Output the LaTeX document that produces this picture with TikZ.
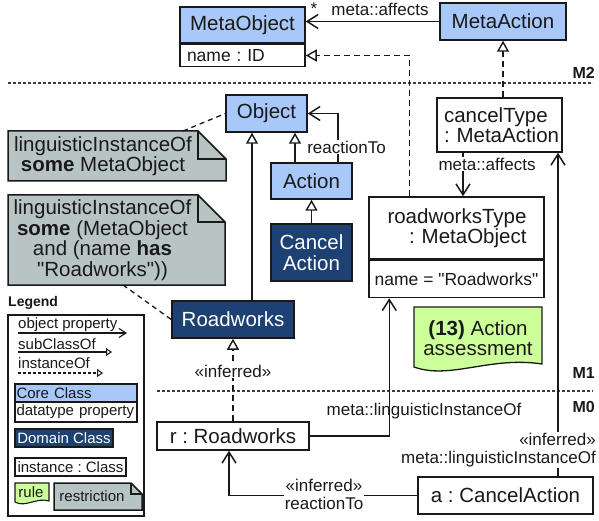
\documentclass[tikz,border=0pt]{standalone}
\usepackage{fontspec}
\setmainfont{Liberation Sans}[Ligatures=TeXOff]
\usetikzlibrary{arrows.meta,calc}

\definecolor{ink}{RGB}{25,25,25}
\definecolor{coreblue}{RGB}{168,200,250}
\definecolor{domainblue}{RGB}{30,65,115}
\definecolor{notegray}{RGB}{184,196,196}
\definecolor{rulegreen}{RGB}{204,255,153}

\tikzset{
  mainfont/.style={font=\fontsize{20.5}{20.5}\selectfont},
  labelfont/.style={font=\fontsize{17}{18}\selectfont},
  legfont/.style={font=\fontsize{15}{16}\selectfont},
  umlbox/.style={draw=ink, line width=1.5pt, inner sep=0pt, align=center, text=ink, mainfont},
  coreclass/.style={umlbox, fill=coreblue},
  domclass/.style={umlbox, fill=domainblue, text=white},
  instbox/.style={umlbox, fill=white},
  attrbox/.style={umlbox, fill=white, font=\fontsize{17.5}{18}\selectfont},
  lbl/.style={labelfont, text=ink, inner sep=1pt, align=center},
  wlbl/.style={lbl, fill=white},
  conn/.style={draw=ink, line width=1.5pt},
  prop/.style={conn, -{Straight Barb[length=11pt, width=14pt, line width=1.5pt]}},
  subcls/.style={conn, -{Triangle[open, length=11pt, width=12pt, line width=1.4pt, fill=white]}},
  instof/.style={subcls, dash pattern=on 6pt off 4pt},
  notelink/.style={draw=ink, line width=1.3pt, dash pattern=on 5pt off 4pt},
  levelline/.style={draw=ink!85, line width=1.2pt, dash pattern=on 3pt off 2pt},
  mlabel/.style={font=\bfseries\fontsize{16}{16}\selectfont, text=ink, inner sep=0pt},
  restr/.style={fill=notegray, draw=ink, line width=1.5pt},
  rulefill/.style={fill=rulegreen, draw=ink, line width=1.3pt},
  notetext/.style={mainfont, text=ink, align=center, inner sep=0pt},
  holder/.style={inner sep=0pt, outer sep=0pt},
  legtext/.style={legfont, text=ink, inner sep=0pt},
  legprop/.style={conn, line width=1.1pt, -{Straight Barb[length=7pt, width=9pt, line width=1.1pt]}},
  legsub/.style={conn, line width=1.1pt, -{Triangle[open, length=6pt, width=8pt, line width=1pt, fill=white]}},
  leginst/.style={legsub, dash pattern=on 3pt off 2pt},
}

% folded-corner restriction note drawn around an empty holder node
\newcommand\drawfold[2]{%
  \path[restr] (#1.north west) -- ([xshift=-#2]#1.north east) -- ([yshift=-#2]#1.north east)
     -- (#1.south east) -- (#1.south west) -- cycle;
  \draw[draw=ink, line width=1.5pt] ([xshift=-#2]#1.north east) |- ([yshift=-#2]#1.north east);}

\begin{document}
\frenchspacing
\begin{tikzpicture}[x=1pt,y=-1pt]
\fill[white] (0,0) rectangle (599,521);
\useasboundingbox (0,0) rectangle (599,521);

% ---- metamodel levels ----
\coordinate (lvA1) at (8,83);   \coordinate (lvA2) at (593,83);
\coordinate (lvB1) at (157,391); \coordinate (lvB2) at (593,391);
\draw[levelline] (lvA1) -- (lvA2);
\draw[levelline] (lvB1) -- (lvB2);
\node[mlabel, anchor=east] (m2) at (595,73) {M2};
\node[mlabel, anchor=east] (m1) at (595,373) {M1};
\node[mlabel, anchor=east] (m0) at (595,407) {M0};

% ---- M2 ----
\node[coreclass, minimum width=125pt, minimum height=36pt] (mo) at (242.5,25) {MetaObject};
\node[attrbox, minimum width=125pt, minimum height=22pt, anchor=north, text width=111pt, align=left] (moattr) at (mo.south) {name : ID};
\node[coreclass, minimum width=126pt, minimum height=37pt] (ma) at (503,21.5) {MetaAction};

% ---- M1 ----
\node[coreclass, minimum width=81pt, minimum height=37pt] (obj) at (266.5,113.5) {Object};
\node[coreclass, minimum width=81pt, minimum height=36pt] (act) at (311.5,181) {Action};
\node[domclass, minimum width=81pt, minimum height=57pt] (cact) at (311.5,252.5) {Cancel\\Action};
\node[domclass, minimum width=122pt, minimum height=37pt] (rw) at (233,319.5) {Roadworks};

\node[instbox, minimum width=125pt, minimum height=54pt, text width=121pt, align=left] (ct) at (499.5,125) {\hspace*{5pt}cancelType\\\hspace*{5pt}: MetaAction};
\node[instbox, minimum width=175pt, minimum height=62pt, text width=140pt, align=right] (rt) at (456.5,228) {roadworksType\\: MetaObject};
\node[attrbox, minimum width=175pt, minimum height=37pt, anchor=north] (rtattr) at (rt.south) {name = "Roadworks"};

% restriction notes
\node[holder, minimum width=218pt, minimum height=50pt] (n1) at (117,156) {};
\drawfold{n1}{28pt}
\node[notetext] (n1txt) at ([xshift=-14pt]n1.center) {linguisticInstanceOf\\\textbf{some} MetaObject};

\node[holder, minimum width=217pt, minimum height=90pt] (n2) at (116.5,240) {};
\drawfold{n2}{27pt}
\node[notetext] (n2txt) at ([xshift=-14pt]n2.center) {linguisticInstanceOf\\\textbf{some} (MetaObject\\and (name \textbf{has}\\"Roadworks"))};

% rule
\node[holder, minimum width=128pt, minimum height=58pt] (r13) at (478,336) {};
\path[rulefill] (r13.north west) -- (r13.north east) -- ($(r13.south east)+(0,-1)$)
  .. controls ($(r13.south east)+(-52,-9)$) and ($(r13.south west)+(36,15)$) .. ($(r13.south west)+(0,2)$) -- cycle;
\node[notetext] (r13txt) at (478,338) {\textbf{(13)} Action\\assessment};

% ---- M0 ----
\node[instbox, minimum width=152pt, minimum height=28pt] (r) at (233,436) {r : Roadworks};
\node[instbox, minimum width=175pt, minimum height=37pt] (a) at (505.5,495.5) {a : CancelAction};

% ---- connectors ----
\draw[prop] (ma.west) -- (ma.west -| mo.east);
\draw[instof] ([xshift=41pt]rt.north west) |- (moattr.east);
\draw[instof] (ct.north -| ma.south) -- (ma.south);
\draw[prop] ([xshift=-36.5pt]ct.south) -- ([xshift=-36.5pt]ct.south |- rt.north);

\draw[subcls] ([xshift=19pt]rw.north) -- ([xshift=19pt]rw.north |- obj.south);
\draw[subcls] ([xshift=-16.5pt]act.north) -- ([xshift=-16.5pt]act.north |- obj.south);
\draw[subcls] (cact.north) -- (act.south);
\draw[prop] ([xshift=26.5pt]act.north) |- (obj.east);

\draw[notelink] ([xshift=66pt]n1.north) -- (obj.west);
\draw[notelink] ([xshift=6.5pt]n2.south) -- (rw.west);

\draw[instof] (r.north) -- (rw.south);
\draw[prop] (r.east) -| ([xshift=21pt]rtattr.south west);
\draw[prop] ([xshift=52.5pt]a.north) -- ([xshift=52.5pt]a.north |- ct.south);
\draw[prop] (a.west) -| ([xshift=-4pt]r.south);

% ---- connector labels ----
\node[lbl] (star) at (314,9) {*};
\node[lbl] (affects1) at (380,9) {meta::affects};
\node[wlbl] (affects2) at (487,164) {meta::affects};
\node[wlbl] (reaction1) at (346.5,147) {reactionTo};
\node[wlbl] (inferred1) at (233,371) {«inferred»};
\node[lbl] (lio1) at (424,411) {meta::linguisticInstanceOf};
\node[wlbl, anchor=east, align=right] (lio2) at (597,450) {«inferred»\\meta::linguisticInstanceOf};
\node[wlbl] (reaction2) at (324,494) {«inferred»\\reactionTo};

% ---- legend ----
\node[font=\bfseries\fontsize{14}{14}\selectfont, text=ink, anchor=west, inner sep=0pt] (legtitle) at (8,303) {Legend};
\node[draw=ink, line width=1.3pt, minimum width=136pt, minimum height=201pt, inner sep=0pt] (legbox) at (76,415.5) {};

\node[legtext, anchor=west] (lgop) at (18,325) {object property};
\coordinate (lop1) at (18,333); \coordinate (lop2) at (127,333);
\draw[legprop] (lop1) -- (lop2);
\node[legtext, anchor=west] (lgsub) at (18,344) {subClassOf};
\coordinate (lsb1) at (18,352); \coordinate (lsb2) at (112,352);
\draw[legsub] (lsb1) -- (lsb2);
\node[legtext, anchor=west] (lginst) at (18,363) {instanceOf};
\coordinate (lin1) at (18,373); \coordinate (lin2) at (103,373);
\draw[leginst] (lin1) -- (lin2);

\node[coreclass, legfont, minimum width=122pt, minimum height=18pt, text width=119pt, align=left] (lgcore) at (76,393) {Core Class};
\node[instbox, legfont, minimum width=122pt, minimum height=20pt, text width=119pt, align=left] (lgdt) at (76,412) {datatype property};
\node[domclass, legfont, minimum width=98pt, minimum height=18pt] (lgdom) at (64,438) {Domain Class};
\node[instbox, legfont, minimum width=111pt, minimum height=18pt] (lginstc) at (70.5,467) {instance : Class};

\node[holder, minimum width=34pt, minimum height=19pt] (lgrule) at (32,492.5) {};
\path[rulefill, line width=1.1pt] (lgrule.north west) -- (lgrule.north east) -- ($(lgrule.south east)+(0,-1)$)
  .. controls ($(lgrule.south east)+(-12,-5)$) and ($(lgrule.south west)+(10,6)$) .. (lgrule.south west) -- cycle;
\node[legtext] (lgruletxt) at (31,492) {rule};

\node[holder, minimum width=88pt, minimum height=27pt] (lgres) at (98,496.5) {};
\drawfold{lgres}{11pt}
\node[legtext] (lgrestxt) at ([xshift=-6pt]lgres.center) {restriction};
\end{tikzpicture}
\end{document}
